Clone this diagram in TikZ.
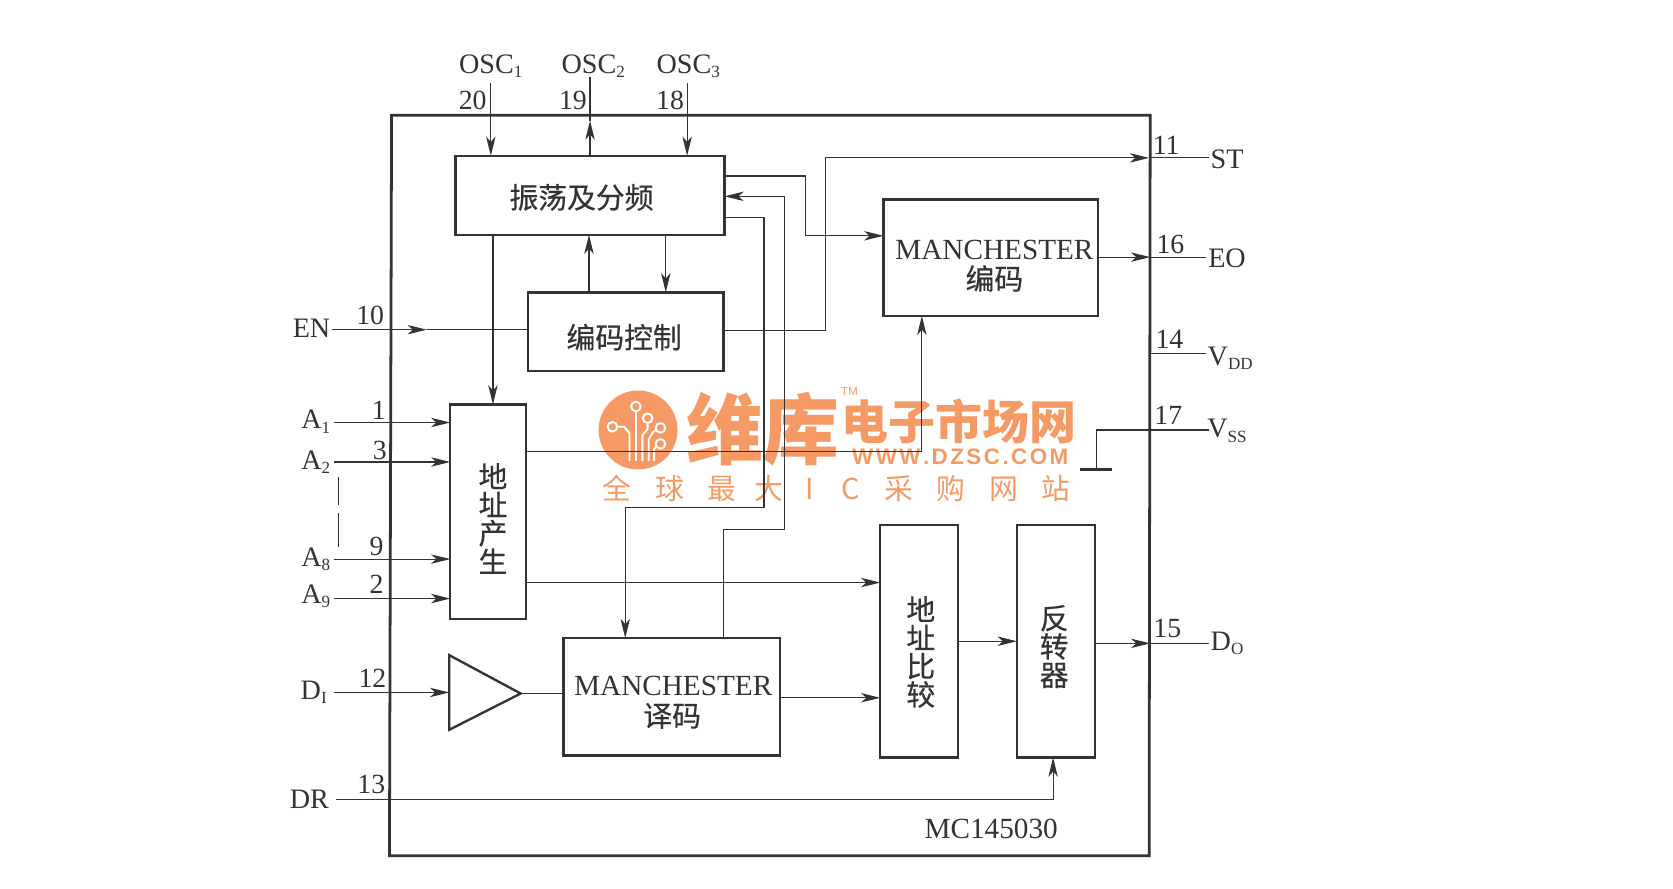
\documentclass[tikz,border=0pt]{standalone}
\usepackage{fontspec}
\usetikzlibrary{arrows.meta}
\setmainfont{Liberation Serif}
\newfontfamily\cjk[FakeBold=0.5]{Noto Sans CJK SC}
\newfontfamily\wmfont{Noto Sans CJK SC}
\newfontfamily\wmlat{Liberation Sans}
\newcommand{\lowsub}[1]{\raisebox{-0.35ex}{\fontsize{8}{8}\selectfont #1}}
\newcommand{\wmc}[2]{\hbox to #1{\hss #2\hss}}
\definecolor{ink}{HTML}{333333}
\definecolor{wm}{HTML}{F59A64}
\tikzset{
  blockbox/.style={draw=ink,line width=1.1pt,inner sep=0pt,outer sep=0pt},
  frame/.style={draw=ink,line width=1.3pt},
  wire/.style={draw=ink,line width=0.55pt},
  arr/.style={wire,-{Stealth[length=9pt,width=4.4pt,inset=2.5pt]}},
  lat/.style={inner sep=0pt,outer sep=0pt,text=ink,font=\fontsize{13.2}{13.2}\selectfont},
  num/.style={lat,font=\fontsize{13}{13}\selectfont},
  zh/.style={inner sep=0pt,outer sep=0pt,text=ink,align=center,font=\cjk\fontsize{13.5}{13.6}\selectfont},
  mark1/.style={inner sep=0pt,outer sep=0pt,text=wm},
}
\begin{document}
\begin{tikzpicture}[x=0.5pt,y=-0.5pt]
\useasboundingbox (0,0) rectangle (1568,833);
% watermark
\fill[wm] (598,403) circle (37);
\begin{scope}[draw=white,line width=0.9pt]
\draw (596,386) -- (596,432);
\draw (578,400) -- (585,400) -- (590,406) -- (590,432);
\draw (607,397) -- (607,402) -- (602,408) -- (602,432);
\draw (616,402) -- (612,405) -- (608,412) -- (608,432);
\draw (616,417) -- (613,421) -- (613,432);
\foreach \p in {(596,381),(574,400),(607,392),(619,401),(619,416)}
  \filldraw[fill=wm] \p circle (4.5);
\end{scope}
\node[mark1,font=\wmfont\bfseries\fontsize{36}{36}\selectfont] (wmA) at (715,402) {维库};
\node[mark1,font=\wmfont\bfseries\fontsize{22}{22}\selectfont] (wmB) at (899,395) {电子市场网};
\node[mark1,font=\wmlat\bfseries\fontsize{10.5}{10.5}\selectfont] (wmC) at (900,428) {W\kern1.15pt W\kern1.15pt W\kern1.15pt .\kern1.15pt D\kern1.15pt Z\kern1.15pt S\kern1.15pt C\kern1.15pt .\kern1.15pt C\kern1.15pt O\kern1.15pt M};
\node[mark1,font=\wmfont\fontsize{13.5}{13.5}\selectfont] (wmD) at (784,458) {\wmc{24.5pt}{全}\wmc{24.5pt}{球}\wmc{24.5pt}{最}\wmc{20pt}{大}\wmc{17.5pt}{I}\wmc{21pt}{C}\wmc{24.5pt}{采}\wmc{24.5pt}{购}\wmc{24.5pt}{网}\wmc{24.5pt}{站}};
\node[mark1,font=\wmlat\fontsize{5.5}{5.5}\selectfont] (wmE) at (796,367) {TM};
% frame
\draw[frame] (367,108) -- (1078,108) -- (1077,802) -- (365,802) -- cycle;
% blocks
\node[blockbox,minimum width=126pt,minimum height=37pt] (osc) at (553,183) {};
\node[blockbox,minimum width=91.5pt,minimum height=37pt] (ctrl) at (586.5,311) {};
\node[blockbox,minimum width=35.5pt,minimum height=100.5pt] (addr) at (457.5,479.5) {};
\node[blockbox,minimum width=100.5pt,minimum height=54.5pt] (enc) at (928.5,241.5) {};
\node[blockbox,minimum width=101.5pt,minimum height=55pt] (dec) at (629.5,653) {};
\node[blockbox,minimum width=36.5pt,minimum height=109pt] (cmp) at (861.5,601) {};
\node[blockbox,minimum width=36.5pt,minimum height=109pt] (inv) at (989.5,601) {};
\coordinate (ampA) at (421,614);
\coordinate (ampB) at (421,684);
\coordinate (ampT) at (488,650);
\coordinate (ampI) at (421,649);
\draw[blockbox] (ampA) -- (ampT) -- (ampB) -- cycle;
% block text
\node[zh] (tOsc) at (545,185) {振荡及分频};
\node[zh] (tCtrl) at (585,316) {编码控制};
\node[zh] (tAddr) at (462,486) {地\\[-0.3pt]址\\[-0.3pt]产\\[-0.3pt]生};
\node[lat,font=\fontsize{13.7}{13.7}\selectfont] (tEncA) at (932,234) {MANCHESTER};
\node[zh] (tEncB) at (932,261) {编码};
\node[lat,font=\fontsize{13.7}{13.7}\selectfont] (tDecA) at (631,643) {MANCHESTER};
\node[zh] (tDecB) at (630,671) {译码};
\node[zh] (tCmp) at (863,611) {地\\[-0.3pt]址\\[-0.3pt]比\\[-0.3pt]较};
\node[zh] (tInv) at (988,606) {反\\[-0.3pt]转\\[-0.3pt]器};
\node[lat,font=\fontsize{13.7}{13.7}\selectfont] (tMC) at (929,777) {MC145030};
% pin names
\node[lat] (nO1) at (460,62) {OSC\lowsub{1}};
\node[lat] (nO2) at (556,62) {OSC\lowsub{2}};
\node[lat] (nO3) at (645,62) {OSC\lowsub{3}};
\node[lat] (nEN) at (292,308) {EN};
\node[lat] (nA1) at (296,395) {A\lowsub{1}};
\node[lat] (nA2) at (296,433) {A\lowsub{2}};
\node[lat] (nA8) at (296,524) {A\lowsub{8}};
\node[lat] (nA9) at (296,559) {A\lowsub{9}};
\node[lat] (nDI) at (294,649) {D\lowsub{I}};
\node[lat] (nDR) at (290,749) {DR};
\node[lat] (nST) at (1150,149) {ST};
\node[lat] (nEO) at (1150,242) {EO};
\node[lat] (nVD) at (1153,336) {V\lowsub{DD}};
\node[lat] (nVS) at (1150,404) {V\lowsub{SS}};
\node[lat] (nDO) at (1150,603) {D\lowsub{O}};
% pin numbers
\node[num] (p20) at (443,94) {20};
\node[num] (p19) at (537,94) {19};
\node[num] (p18) at (628,94) {18};
\node[num] (p10) at (347,296) {10};
\node[num] (p1) at (355,385) {1};
\node[num] (p3) at (356,422) {3};
\node[num] (p9) at (353,512) {9};
\node[num] (p2) at (353,548) {2};
\node[num] (p12) at (349,636) {12};
\node[num] (p13) at (348,735) {13};
\node[num] (p11) at (1093,136) {11};
\node[num] (p16) at (1097,229) {16};
\node[num] (p14) at (1096,318) {14};
\node[num] (p17) at (1095,389) {17};
\node[num] (p15) at (1094,589) {15};
% free ends
\coordinate (eO1) at (460,78);
\coordinate (eO2) at (553,72);
\coordinate (tO2) at (553,113);
\coordinate (eO3) at (644,78);
\coordinate (eEN) at (311,309);
\coordinate (tEN) at (400,309);
\coordinate (eA1) at (313,396);
\coordinate (eA2) at (313,433);
\coordinate (eA8) at (313,524);
\coordinate (eA9) at (313,561);
\coordinate (eDI) at (313,649);
\coordinate (eDR) at (315,749);
\coordinate (eST) at (1133,148);
\coordinate (tST) at (1077,148);
\coordinate (eEO) at (1130,241);
\coordinate (tEO) at (1078,241);
\coordinate (eDO) at (1133,603);
\coordinate (tDO) at (1078,603);
\coordinate (eVD) at (1130,331);
\coordinate (sVD) at (1078,331);
\coordinate (eVS) at (1133,403);
\coordinate (kVS) at (1028,403);
\coordinate (gnd) at (1028,440);
\coordinate (gndL) at (1012,440);
\coordinate (gndR) at (1042,440);
% external pins
\draw[arr] (eO1) -- (eO1 |- osc.north);
\draw[wire] (eO2) -- (tO2);
\draw[arr] (tO2 |- osc.north) -- (tO2);
\draw[arr] (eO3) -- (eO3 |- osc.north);
\draw[arr] (eEN) -- (tEN);
\draw[wire] (tEN) -- (tEN -| ctrl.west);
\draw[arr] (eA1) -- (eA1 -| addr.west);
\draw[arr] (eA2) -- (eA2 -| addr.west);
\draw[arr] (eA8) -- (eA8 -| addr.west);
\draw[arr] (eA9) -- (eA9 -| addr.west);
\draw[arr] (eDI) -- (ampI);
\draw[wire] (ampT) -- (ampT -| dec.west);
\draw[wire] (317,447) -- (317,473);
\draw[wire] (317,481) -- (317,513);
% internal wires
\coordinate (oL) at ([xshift=-45.5pt]osc.south);
\coordinate (oC) at ([xshift=-0.5pt]osc.south);
\coordinate (oR) at ([xshift=35.5pt]osc.south);
\draw[arr] (oL) -- (oL |- addr.north);
\draw[arr] (oC |- ctrl.north) -- (oC);
\draw[arr] (oR) -- (oR |- ctrl.north);
\coordinate (o1) at ([yshift=9pt]osc.east);
\coordinate (e1) at ([yshift=10.25pt]enc.west);
\draw[arr] (o1) -| (755,221) -- (e1);
\coordinate (o2) at ([yshift=-0.5pt]osc.east);
\coordinate (d2) at ([xshift=24.25pt]dec.north);
\draw[arr] (d2) -- (d2 |- 0,496) -- (735,496) -- (735,184) -- (o2);
\coordinate (o3) at ([yshift=-10.5pt]osc.east);
\coordinate (d3) at ([xshift=-21.75pt]dec.north);
\draw[arr] (o3) -- (716,204) -- (716,476) -- (586,476) -- (d3);
\coordinate (c1) at ([yshift=0.5pt]ctrl.east);
\draw[arr] (c1) -- (774,310) -- (774,148) -- (tST);
\draw[wire] (tST) -- (eST);
\coordinate (a1) at ([yshift=28.25pt]addr.east);
\coordinate (en1) at ([xshift=-32.25pt]enc.south);
\draw[arr] (a1) -| (en1);
\coordinate (a2) at ([yshift=-33.25pt]addr.east);
\draw[arr] (a2) -- (a2 -| cmp.west);
\coordinate (d1) at ([yshift=-0.5pt]dec.east);
\draw[arr] (d1) -- (d1 -| cmp.west);
\draw[arr] (cmp.east) -- (cmp.east -| inv.west);
\coordinate (i1) at (inv.east |- tDO);
\draw[arr] (i1) -- (tDO);
\draw[wire] (tDO) -- (eDO);
\coordinate (en2) at (enc.east |- tEO);
\draw[arr] (en2) -- (tEO);
\draw[wire] (tEO) -- (eEO);
\draw[wire] (sVD) -- (eVD);
\draw[wire] (eVS) -- (kVS) -- (gnd);
\draw[blockbox] (gndL) -- (gndR);
\coordinate (invS) at ([xshift=-1.25pt]inv.south);
\draw[arr] (eDR) -- (invS |- eDR) -- (invS);
\end{tikzpicture}
\end{document}
